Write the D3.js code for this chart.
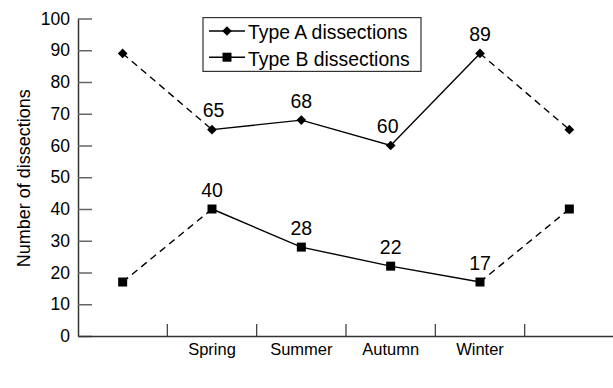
<!DOCTYPE html>
<html>
<head>
<meta charset="utf-8">
<script src="https://cdn.jsdelivr.net/npm/d3@7"></script>
<style>
  html, body { margin: 0; padding: 0; background: #fff; }
  svg { display: block; }
  text { font-family: "Liberation Sans", Arial, sans-serif; fill: #000; }
</style>
</head>
<body>
<svg id="chart" width="613" height="388"></svg>
<script>
// ---- Data ----
const periods = ["Winter (previous)", "Spring", "Summer", "Autumn", "Winter", "Spring (next)"];
const tickLabels = ["", "Spring", "Summer", "Autumn", "Winter", ""];
const typeA = [89, 65, 68, 60, 89, 65];
const typeB = [17, 40, 28, 22, 17, 40];
const labelledA = [false, true, true, true, true, false];
const labelledB = [false, true, true, true, true, false];
const yTicks = [0, 10, 20, 30, 40, 50, 60, 70, 80, 90, 100];
const seriesNames = ["Type A dissections", "Type B dissections"];

// ---- Layout ----
const svg = d3.select("#chart");
const mLeft = 78, mRight = 614, mTop = 18.5, mBottom = 336;

const x = d3.scaleBand().domain(d3.range(periods.length)).range([mLeft, mRight]).padding(0);
const y = d3.scaleLinear().domain([0, 100]).range([mBottom, mTop]);
const cx = i => x(i) + x.bandwidth() / 2;

// Y axis
const yAxis = svg.append("g").attr("transform", `translate(${mLeft},0)`)
  .call(d3.axisLeft(y).tickValues(yTicks).tickSizeInner(-14).tickSizeOuter(0).tickPadding(8));
yAxis.select(".domain").attr("stroke", "#333").attr("stroke-width", 1.5);
yAxis.selectAll(".tick line").attr("stroke", "#666").attr("stroke-width", 1.5);
yAxis.selectAll(".tick text").attr("font-size", 17.5).attr("font-family", "Liberation Sans, Arial, sans-serif").attr("fill", "#000");

// X axis
const xAxis = svg.append("g").attr("transform", `translate(0,${mBottom})`)
  .call(d3.axisBottom(x).tickSize(0).tickPadding(7).tickFormat(i => tickLabels[i]));
xAxis.select(".domain").attr("stroke", "#333").attr("stroke-width", 1.5);
xAxis.selectAll(".tick text").attr("font-size", 16.5).attr("font-family", "Liberation Sans, Arial, sans-serif").attr("fill", "#000").attr("dy", "0.75em");
// separators between periods
svg.append("g").selectAll("line").data(d3.range(1, periods.length)).join("line")
  .attr("x1", i => x(i)).attr("x2", i => x(i))
  .attr("y1", mBottom).attr("y2", mBottom - 12)
  .attr("stroke", "#444").attr("stroke-width", 1.3);

// Y title
svg.append("text")
  .attr("transform", `translate(30,${(mTop + mBottom) / 2 + 1}) rotate(-90)`)
  .attr("text-anchor", "middle")
  .attr("font-size", 18)
  .text("Number of dissections");

// Lines
function drawSeries(values, marker) {
  const g = svg.append("g");
  const line = d3.line().x(d => cx(d.i)).y(d => y(d.v));
  const pts = values.map((v, i) => ({ i, v }));
  const n = pts.length;
  g.append("path").datum(pts.slice(0, 2)).attr("d", line)
    .attr("fill", "none").attr("stroke", "#000").attr("stroke-width", 1.4).attr("stroke-dasharray", "7,5");
  g.append("path").datum(pts.slice(1, n - 1)).attr("d", line)
    .attr("fill", "none").attr("stroke", "#000").attr("stroke-width", 1.4);
  g.append("path").datum(pts.slice(n - 2)).attr("d", line)
    .attr("fill", "none").attr("stroke", "#000").attr("stroke-width", 1.4).attr("stroke-dasharray", "7,5");
  g.selectAll("path.m").data(pts).join("path").attr("class", "m")
    .attr("transform", d => `translate(${cx(d.i)},${y(d.v)})`)
    .attr("d", marker).attr("fill", "#000");
  return g;
}
const diamond = d3.symbol().type(d3.symbolDiamond2).size(60)();
const square = d3.symbol().type(d3.symbolSquare).size(81)();
drawSeries(typeA, diamond);
drawSeries(typeB, square);

// Value labels
const labelOffsetA = [0, 1.5, 0, -3, 0, 0];
function drawLabels(values, flags, dxs) {
  svg.append("g").selectAll("text").data(values.map((v, i) => ({ v, i })).filter(d => flags[d.i])).join("text")
    .attr("x", d => cx(d.i) + (dxs ? dxs[d.i] : 0))
    .attr("y", d => y(d.v) - 12.5)
    .attr("text-anchor", "middle")
    .attr("font-size", 19.5)
    .text(d => d.v);
}
drawLabels(typeA, labelledA, labelOffsetA);
drawLabels(typeB, labelledB, null);

// Legend
const lg = svg.append("g");
lg.append("rect").attr("x", 203).attr("y", 17.6).attr("width", 218).attr("height", 53.8)
  .attr("fill", "#fff").attr("stroke", "#333").attr("stroke-width", 1.2);
const rows = [{ name: seriesNames[0], m: diamond, yy: 31 }, { name: seriesNames[1], m: square, yy: 57.2 }];
rows.forEach(r => {
  lg.append("line").attr("x1", 209).attr("x2", 245).attr("y1", r.yy).attr("y2", r.yy)
    .attr("stroke", "#000").attr("stroke-width", 1.4);
  lg.append("path").attr("d", r.m).attr("transform", `translate(227,${r.yy})`).attr("fill", "#000");
  lg.append("text").attr("x", 248).attr("y", r.yy + 8.3).attr("font-size", 19.4).text(r.name);
});
</script>
</body>
</html>
